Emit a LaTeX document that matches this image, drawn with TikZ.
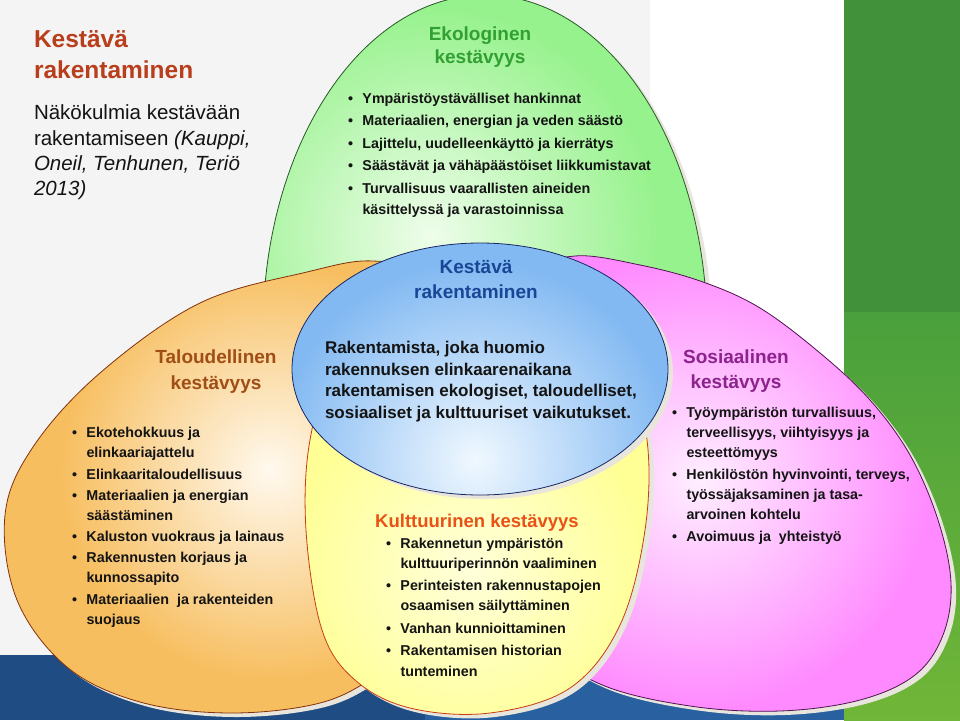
\documentclass[tikz,border=0pt]{standalone}
\usepackage{fontspec}
\setmainfont{Liberation Sans}
\definecolor{bggray}{RGB}{244,244,244}
\definecolor{navyband}{RGB}{31,77,131}
\definecolor{blueband}{RGB}{40,96,160}
\definecolor{gdark}{RGB}{64,145,58}
\definecolor{gmid}{RGB}{74,160,60}
\definecolor{glime}{RGB}{112,182,56}
\definecolor{halo}{RGB}{232,229,220}
\definecolor{greenO}{RGB}{150,242,140}
\definecolor{greenI}{RGB}{238,253,234}
\definecolor{greenL}{RGB}{40,90,40}
\definecolor{orangeO}{RGB}{247,190,95}
\definecolor{orangeI}{RGB}{255,249,238}
\definecolor{orangeL}{RGB}{130,50,15}
\definecolor{pinkO}{RGB}{255,138,255}
\definecolor{pinkI}{RGB}{255,238,255}
\definecolor{pinkL}{RGB}{80,20,80}
\definecolor{yellowO}{RGB}{255,255,150}
\definecolor{yellowI}{RGB}{255,255,218}
\definecolor{yellowL}{RGB}{200,60,20}
\definecolor{blueO}{RGB}{130,185,242}
\definecolor{blueI}{RGB}{240,248,255}
\definecolor{blueL}{RGB}{25,40,100}
\definecolor{ttlred}{RGB}{185,62,28}
\definecolor{ecogreen}{RGB}{50,160,50}
\definecolor{bluettl}{RGB}{25,70,150}
\definecolor{orangettl}{RGB}{160,78,22}
\definecolor{pinkttl}{RGB}{140,35,140}
\definecolor{yellowttl}{RGB}{232,82,22}
\definecolor{txt}{RGB}{20,20,20}
\newcommand\greenshape[1]{\path[#1] (485,330) ellipse [x radius=222pt, y radius=335pt];}
\newcommand\blueshape[1]{\path[#1] (480,369) ellipse [x radius=188pt, y radius=126pt];}
\newcommand\orangeshape[1]{\path[#1] plot[smooth cycle, tension=0.6] coordinates {(5,515) (17,600) (67,667) (140,702) (230,713) (320,703) (377,675) (425,635) (462,565) (478,470) (468,360) (430,278) (373,261) (307,272) (200,303) (100,373) (33,447)};}
\newcommand\pinkshape[1]{\path[#1] plot[smooth cycle, tension=0.6] coordinates {(575,256) (640,265) (703,282) (760,308) (820,353) (870,400) (910,455) (938,520) (951,583) (943,635) (915,675) (860,700) (780,711) (690,706) (600,684) (540,640) (505,560) (495,450) (505,340) (530,275)};}
\newcommand\yellowshape[1]{\path[#1] plot[smooth cycle, tension=0.6] coordinates {(477,318) (560,328) (625,370) (647,440) (645,530) (620,625) (570,688) (490,713) (410,708) (355,680) (322,630) (306,530) (310,440) (335,370) (400,330)};}
\newcommand\bl{\makebox[14.5pt][l]{\textbullet}}
\begin{document}
\begin{tikzpicture}[x=1pt,y=-1pt,
  lbl/.style={anchor=base west, inner sep=0pt, outer sep=0pt, text=txt},
  bul/.style={lbl, font=\bfseries\fontsize{14.3}{17}\selectfont},
  bodyb/.style={lbl, font=\bfseries\fontsize{17}{20}\selectfont},
  sect/.style={anchor=base, inner sep=0pt, outer sep=0pt, font=\bfseries\fontsize{19}{23}\selectfont},
  ttl/.style={lbl, text=ttlred, font=\bfseries\fontsize{24.5}{28}\selectfont},
  sub/.style={lbl, font=\fontsize{20.5}{24}\selectfont},
  outline/.style={line width=0.8pt}]
\useasboundingbox (0,0) rectangle (960,720);
% background
\fill[bggray] (0,0) rectangle (650,655);
\fill[white] (650,0) rectangle (844,655);
\fill[navyband] (0,655) rectangle (425,720);
\fill[blueband] (425,655) rectangle (844,720);
\fill[gdark] (844,0) rectangle (960,312);
\shade[top color=gmid, middle color=gmid, bottom color=glime] (844,312) rectangle (960,720);
% green
\greenshape{fill=halo, shift={(5,4)}}
\begin{scope}
\greenshape{clip}
\fill[greenO] (0,0) rectangle (960,720);
\shade[inner color=greenI, outer color=greenO] (430,235) circle (230pt);
\end{scope}
\greenshape{draw=greenL, outline}
% orange
\orangeshape{fill=halo, shift={(5,4)}}
\begin{scope}
\orangeshape{clip}
\fill[orangeO] (0,0) rectangle (960,720);
\shade[inner color=orangeI, outer color=orangeO] (270,470) circle (210pt);
\end{scope}
\orangeshape{draw=orangeL, outline}
% pink
\pinkshape{fill=halo, shift={(5,4)}}
\begin{scope}
\pinkshape{clip}
\fill[pinkO] (0,0) rectangle (960,720);
\shade[inner color=pinkI, outer color=pinkO] (700,480) circle (230pt);
\end{scope}
\pinkshape{draw=pinkL, outline}
% yellow
\yellowshape{fill=halo, shift={(5,4)}}
\begin{scope}
\yellowshape{clip}
\fill[yellowO] (0,0) rectangle (960,720);
\shade[inner color=yellowI, outer color=yellowO] (470,570) circle (180pt);
\end{scope}
\yellowshape{draw=yellowL, outline}
% blue
\blueshape{fill=halo, shift={(5,4)}}
\begin{scope}
\blueshape{clip}
\fill[blueO] (0,0) rectangle (960,720);
\shade[inner color=blueI, outer color=blueO] (475,460) circle (200pt);
\end{scope}
\blueshape{draw=blueL, outline}
% top-left title
\node[ttl] (t1) at (34,47) {Kestävä};
\node[ttl] (t2) at (34,78) {rakentaminen};
\node[sub] (s1) at (34,119) {Näkökulmia kestävään};
\node[sub] (s2) at (34,145) {rakentamiseen \textit{(Kauppi,}};
\node[sub] (s3) at (34,170) {\textit{Oneil, Tenhunen, Teriö}};
\node[sub] (s4) at (34,195) {\textit{2013)}};
% green
\node[sect, text=ecogreen] (gt1) at (480,40) {Ekologinen};
\node[sect, text=ecogreen] (gt2) at (480,63) {kestävyys};
\node[bul] (g1) at (348,103) {\bl Ympäristöystävälliset hankinnat};
\node[bul] (g2) at (348,125) {\bl Materiaalien, energian ja veden säästö};
\node[bul] (g3) at (348,148) {\bl Lajittelu, uudelleenkäyttö ja kierrätys};
\node[bul] (g4) at (348,170) {\bl Säästävät ja vähäpäästöiset liikkumistavat};
\node[bul] (g5) at (348,193) {\bl Turvallisuus vaarallisten aineiden};
\node[bul] (g6) at (362.5,214) {käsittelyssä ja varastoinnissa};
% blue
\node[sect, text=bluettl] (bt1) at (476,273) {Kestävä};
\node[sect, text=bluettl] (bt2) at (476,298) {rakentaminen};
\node[bodyb] (b1) at (325,353) {Rakentamista, joka huomio};
\node[bodyb] (b2) at (325,375) {rakennuksen elinkaarenaikana};
\node[bodyb] (b3) at (325,396) {rakentamisen ekologiset, taloudelliset,};
\node[bodyb] (b4) at (325,418) {sosiaaliset ja kulttuuriset vaikutukset.};
% orange
\node[sect, text=orangettl] (ot1) at (216,363) {Taloudellinen};
\node[sect, text=orangettl] (ot2) at (216,389) {kestävyys};
\node[bul] (o1) at (72,437) {\bl Ekotehokkuus ja};
\node[bul] (o2) at (86.5,457) {elinkaariajattelu};
\node[bul] (o3) at (72,479) {\bl Elinkaaritaloudellisuus};
\node[bul] (o4) at (72,500) {\bl Materiaalien ja energian};
\node[bul] (o5) at (86.5,520) {säästäminen};
\node[bul] (o6) at (72,541) {\bl Kaluston vuokraus ja lainaus};
\node[bul] (o7) at (72,562) {\bl Rakennusten korjaus ja};
\node[bul] (o8) at (86.5,582) {kunnossapito};
\node[bul] (o9) at (72,604) {\bl Materiaalien\ \ ja rakenteiden};
\node[bul] (o10) at (86.5,624) {suojaus};
% pink
\node[sect, text=pinkttl] (pt1) at (736,363) {Sosiaalinen};
\node[sect, text=pinkttl] (pt2) at (736,388) {kestävyys};
\node[bul] (p1) at (672,417) {\bl Työympäristön turvallisuus,};
\node[bul] (p2) at (686.5,437) {terveellisyys, viihtyisyys ja};
\node[bul] (p3) at (686.5,457) {esteettömyys};
\node[bul] (p4) at (672,479) {\bl Henkilöstön hyvinvointi, terveys,};
\node[bul] (p5) at (686.5,499) {työssäjaksaminen ja tasa-};
\node[bul] (p6) at (686.5,519) {arvoinen kohtelu};
\node[bul] (p7) at (672,541) {\bl Avoimuus ja\ \ yhteistyö};
% yellow
\node[sect, text=yellowttl, font=\bfseries\fontsize{18.5}{22}\selectfont] (yt1) at (477,527) {Kulttuurinen kestävyys};
\node[bul] (y1) at (386,548) {\bl Rakennetun ympäristön};
\node[bul] (y2) at (400.5,568) {kulttuuriperinnön vaaliminen};
\node[bul] (y3) at (386,590) {\bl Perinteisten rakennustapojen};
\node[bul] (y4) at (400.5,610) {osaamisen säilyttäminen};
\node[bul] (y5) at (386,633) {\bl Vanhan kunnioittaminen};
\node[bul] (y6) at (386,655) {\bl Rakentamisen historian};
\node[bul] (y7) at (400.5,676) {tunteminen};
\end{tikzpicture}
\end{document}
